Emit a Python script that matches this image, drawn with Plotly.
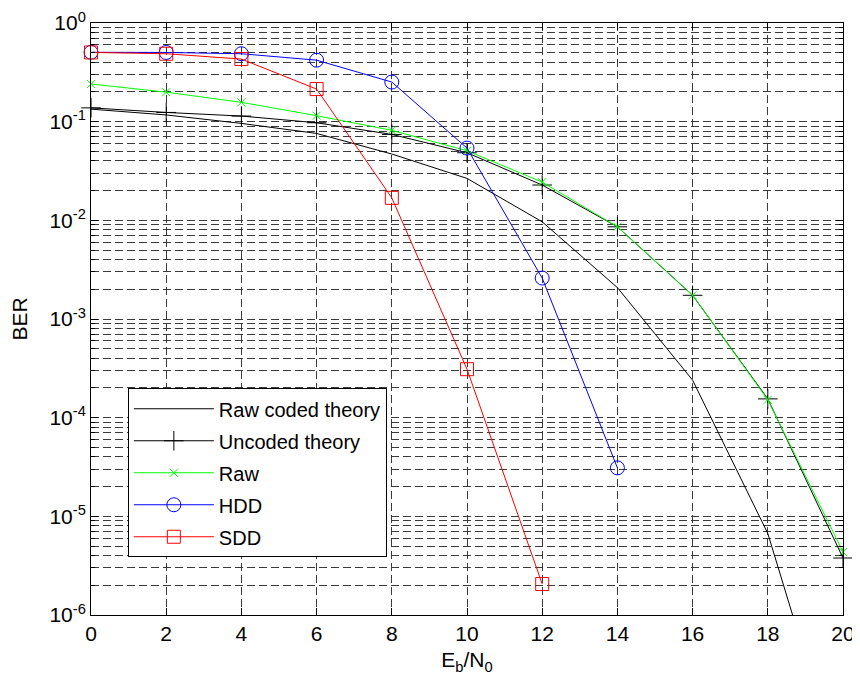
import plotly.graph_objects as go

# ---- data ----
ebn0 = [0, 2, 4, 6, 8, 10, 12, 14, 16, 18, 20]
raw_coded_theory = [0.134, 0.117, 0.096, 0.076, 0.047, 0.0266, 0.00966, 0.00208, 2.4e-4, 6.7e-6, 2.1e-8]
uncoded_theory = [0.138, 0.124, 0.114, 0.0975, 0.0743, 0.0484, 0.0228, 0.0086, 0.00174, 1.55e-4, 3.78e-6]
raw = [0.241, 0.199, 0.157, 0.115, 0.0817, 0.0507, 0.0244, 0.0086, 0.00174, 1.52e-4, 4.35e-6]
hdd_x = [0, 2, 4, 6, 8, 10, 12, 14]
hdd = [0.505, 0.503, 0.488, 0.42, 0.252, 0.054, 0.0026, 3.1e-5]
sdd_x = [0, 2, 4, 6, 8, 10, 12]
sdd = [0.503, 0.488, 0.431, 0.214, 0.0169, 3.1e-4, 2.06e-6]

ytick_vals = [1e0, 1e-1, 1e-2, 1e-3, 1e-4, 1e-5, 1e-6]
ytick_text = ["10<sup>0</sup>", "10<sup>-1</sup>", "10<sup>-2</sup>", "10<sup>-3</sup>",
              "10<sup>-4</sup>", "10<sup>-5</sup>", "10<sup>-6</sup>"]

FONT = "Liberation Sans, Arial, sans-serif"

fig = go.Figure()
fig.add_trace(go.Scatter(x=ebn0, y=raw_coded_theory, mode="lines", name="Raw coded theory",
                         line=dict(color="black", width=1), legendgroup="a"))
fig.add_trace(go.Scatter(x=ebn0, y=uncoded_theory, mode="lines+markers", name="Uncoded theory",
                         line=dict(color="black", width=1), legendgroup="b",
                         marker=dict(symbol="cross-thin-open", size=14, color="black",
                                     line=dict(width=1, color="black")), cliponaxis=False))
fig.add_trace(go.Scatter(x=ebn0, y=raw, mode="lines+markers", name="Raw",
                         line=dict(color="#00ff00", width=1), legendgroup="c",
                         marker=dict(symbol="x-thin-open", size=8, color="#00ff00",
                                     line=dict(width=1, color="#00ff00")), cliponaxis=False))
fig.add_trace(go.Scatter(x=hdd_x, y=hdd, mode="lines+markers", name="HDD",
                         line=dict(color="#0000ff", width=1), legendgroup="d",
                         marker=dict(symbol="circle-open", size=14, color="#0000ff",
                                     line=dict(width=1, color="#0000ff")), cliponaxis=False))
fig.add_trace(go.Scatter(x=sdd_x, y=sdd, mode="lines+markers", name="SDD",
                         line=dict(color="#ff0000", width=1), legendgroup="e",
                         marker=dict(symbol="square-open", size=13, color="#ff0000",
                                     line=dict(width=1, color="#ff0000")), cliponaxis=False))

grid_dash = "8px,4px"
GRID = "#3a3a3a"
fig.update_layout(
    width=860, height=690,
    # the page body adds an 8px offset, so margins are reduced by 8px on left/top
    margin=dict(l=83, r=25, t=15, b=83, autoexpand=False),
    paper_bgcolor="white", plot_bgcolor="white",
    font=dict(family=FONT, size=21, color="black"),
    legend=dict(x=0.049, y=0.383, xanchor="left", yanchor="top",
                bgcolor="white", bordercolor="black", borderwidth=1,
                font=dict(size=20), tracegroupgap=3, itemwidth=80),
    xaxis=dict(range=[0, 20], dtick=2, tick0=0, showline=True, linecolor="black", linewidth=1,
               mirror="allticks", ticks="inside", ticklen=7, tickcolor="black",
               showgrid=True, gridcolor=GRID, griddash=grid_dash, gridwidth=1,
               zeroline=False, tickfont=dict(size=21), automargin=False,
               title=dict(text="E<sub>b</sub>/N<sub>0</sub>", font=dict(size=21), standoff=8)),
    yaxis=dict(type="log", range=[-6, 0], tickvals=ytick_vals, ticktext=ytick_text,
               showline=True, linecolor="black", linewidth=1, mirror="allticks",
               ticks="inside", ticklen=7, tickcolor="black",
               showgrid=True, gridcolor=GRID, griddash=grid_dash, gridwidth=1,
               minor=dict(dtick="D1", showgrid=True, gridcolor=GRID, griddash=grid_dash,
                          ticks="inside", ticklen=4, tickcolor="black"),
               zeroline=False, tickfont=dict(size=21), automargin=False,
               title=dict(text="BER", font=dict(size=21), standoff=16)),
)

fig.write_html("out.html")
